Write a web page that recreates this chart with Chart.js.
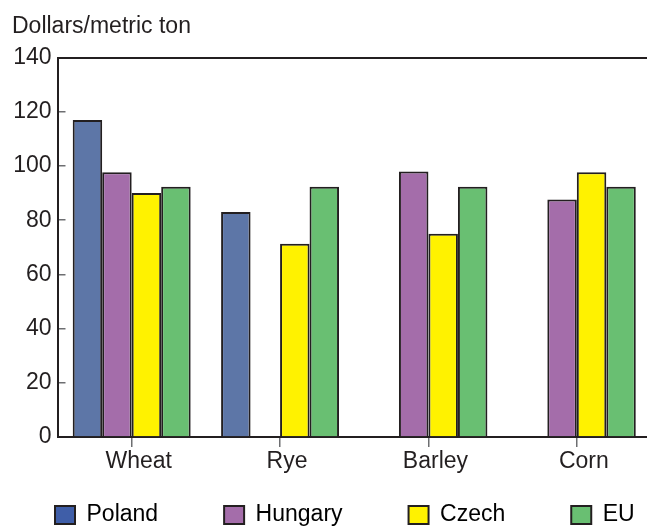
<!DOCTYPE html>
<html>
<head>
<meta charset="utf-8">
<script src="https://cdn.jsdelivr.net/npm/chart.js@4/dist/chart.umd.min.js"></script>
<style>
  html, body { margin: 0; padding: 0; background: #fff; overflow: hidden; }
  #wrap { position: absolute; left: 0; top: 0; width: 651px; height: 527px; }
</style>
</head>
<body>
<div id="wrap"><canvas id="myChart" width="651" height="527"></canvas></div>
<script>
// grain prices, dollars per metric ton
const grains = ['Wheat', 'Rye', 'Barley', 'Corn'];
const poland = [117, 83, null, null];
const hungary = [97.7, null, 98, 87.6];
const czech = [90, 71.3, 75, 97.7];
const eu = [92.3, 92.3, 92.3, 92.3];
const yTicks = [0, 20, 40, 60, 80, 100, 120, 140];

document.addEventListener('DOMContentLoaded', () => {
    const ink = '#231f20';
    const font = 'Liberation Sans, Arial, Helvetica, sans-serif';
    const legendFill = ['#3f5ea8', '#a46daa', '#fff200', '#69bf72'];
    const legendGap = 66;

    // legend needs wide gaps between items but must sit close under the axis
    const legendNudge = {
        id: 'legendNudge',
        afterLayout(chart) {
            const lg = chart.legend;
            const dx = 55 - (lg.left + legendGap);
            const dy = 503.5 - (lg.top + legendGap);
            lg.left += dx;
            lg.right = chart.width + 400;   // keep all items on one row
            lg.width = lg.right - lg.left;
            lg.top += dy;
            lg.bottom = chart.height;
            lg.height = lg.bottom - lg.top;
        }
    };

    const bar = (label, data, color) => ({
        label: label,
        data: data,
        backgroundColor: color,
        borderColor: ink,
        borderWidth: 2,
        xAxisID: 'x',
        yAxisID: 'y'
    });

    new Chart(document.getElementById('myChart'), {
        type: 'bar',
        data: {
            labels: grains,
            datasets: [
                bar('Poland', poland, '#5d76a7'),
                bar('Hungary', hungary, '#a46daa'),
                bar('Czech', czech, '#fff200'),
                bar('EU', eu, '#69bf72')
            ]
        },
        plugins: [legendNudge],
        options: {
            responsive: false,
            animation: false,
            layout: { padding: { left: 12, right: 0, top: 0, bottom: 0 } },
            datasets: { bar: { barPercentage: 1, categoryPercentage: 0.795 } },
            plugins: {
                tooltip: { enabled: false },
                title: {
                    display: true,
                    text: 'Dollars/metric ton',
                    align: 'start',
                    color: ink,
                    font: { family: font, size: 23, weight: 'normal' },
                    padding: { top: 13, bottom: 17 }
                },
                legend: {
                    position: 'bottom',
                    align: 'start',
                    maxHeight: 40,
                    labels: {
                        color: ink,
                        font: { family: font, size: 23 },
                        boxWidth: 20,
                        boxHeight: 18,
                        padding: legendGap,
                        generateLabels: (chart) => chart.data.datasets.map((ds, i) => ({
                            text: ds.label,
                            fillStyle: legendFill[i],
                            strokeStyle: ink,
                            lineWidth: 2,
                            datasetIndex: i
                        }))
                    }
                }
            },
            scales: {
                xt: {
                    type: 'category',
                    position: 'top',
                    ticks: { display: false },
                    grid: { display: false, drawTicks: false },
                    border: { display: true, color: ink, width: 2 },
                    afterFit: (a) => { a.height = 0; }
                },
                x: {
                    position: 'bottom',
                    afterFit: (a) => { a.height = 50; },
                    ticks: {
                        color: ink,
                        font: { family: font, size: 23 },
                        padding: 1,
                        labelOffset: 7,
                        maxRotation: 0
                    },
                    grid: { offset: false, drawOnChartArea: false, tickLength: 10, color: '#6d6e71', lineWidth: 1.5 },
                    border: { display: true, color: ink, width: 2 }
                },
                y: {
                    min: 0,
                    max: 140,
                    afterBuildTicks: (a) => { a.ticks = yTicks.map(v => ({ value: v })); },
                    afterFit: (a) => { a.width = 45.5; },
                    ticks: {
                        color: ink,
                        font: { family: font, size: 23 },
                        padding: 14
                    },
                    grid: { drawOnChartArea: false, tickLength: -8, color: '#6d6e71', lineWidth: 1.5 },
                    border: { display: true, color: ink, width: 2 }
                }
            }
        }
    });
});
</script>
</body>
</html>
